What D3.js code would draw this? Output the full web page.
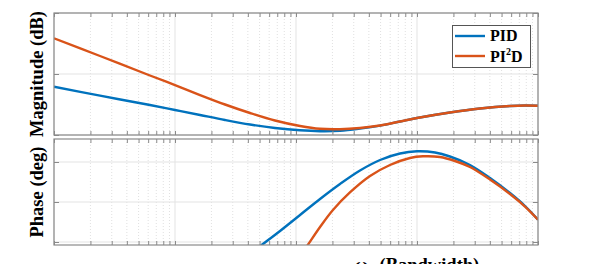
<!DOCTYPE html>
<html>
<head>
<meta charset="utf-8">
<script src="https://cdn.jsdelivr.net/npm/d3@7"></script>
<style>
body { margin: 0; background: #fff; }
svg { display: block; }
</style>
</head>
<body>
<svg id="chart" width="598" height="264"></svg>
<script>
// frequencies are w / w_b
let magFreq = [0.001, 0.0024, 0.00621, 0.01, 0.0161, 0.0259, 0.0417, 0.067, 0.108, 0.158, 0.231, 0.338, 0.495, 0.724, 1, 1.87, 3.32, 5.87, 7.81, 10]
let magPID = [5.84, 2.89, -0.16, -1.8, -3.44, -5.08, -6.56, -7.7, -8.46, -8.75, -8.62, -7.9, -6.92, -5.57, -4.43, -2.62, -1.31, -0.49, -0.33, -0.43]
let magPI2D = [21.7, 15.9, 9.51, 6.39, 3.11, 0.0, -2.79, -5.25, -7.05, -7.97, -8.1, -7.7, -6.89, -5.57, -4.43, -2.62, -1.31, -0.49, -0.33, -0.43]

let phaseFreqPID = [0.0417, 0.0504, 0.0738, 0.108, 0.158, 0.231, 0.338, 0.495, 0.724, 1, 1.41, 1.87, 2.74, 4.01, 5.87, 7.81, 10]
let phasePID = [-103.5, -94.8, -77.6, -59.6, -41.6, -24.75, -9.56, 2.25, 9.56, 12.04, 10.69, 6.19, -3.38, -18.0, -34.9, -49.5, -64.9]

let phaseFreqPI2D = [0.108, 0.123, 0.158, 0.202, 0.279, 0.409, 0.598, 0.875, 1.12, 1.55, 2.06, 2.74, 4.01, 5.87, 7.81, 10]
let phasePI2D = [-105.75, -94.8, -73.1, -54, -34.3, -15.75, -3.375, 4.5, 6.41, 5.625, 1.125, -5.625, -19.7, -36, -50.1, -64.9]

let magTicks = [-10, 10, 30]
let phaseTicks = [-90, -45, 0]

let svg = d3.select("#chart")

let x = d3.scaleLog()
    .domain([0.001, 10])
    .range([54, 538])

let yMag = d3.scaleLinear()
    .domain([-10, 30])
    .range([135, 13])

let yPhase = d3.scaleLinear()
    .domain([-93.375, 25.875])
    .range([245, 139])

let majorX = [0.001, 0.01, 0.1, 1, 10]
let minorX = []
majorX.slice(0, -1).forEach(d => {
    for (let k = 2; k <= 9; k++) minorX.push(d * k)
})

let blue = "#0072bd"
let orange = "#d95319"

function drawPanel(y, ticks, top, bottom, id) {
    let g = svg.append("g")

    // minor vertical grid
    g.selectAll(".minor")
        .data(minorX)
        .enter()
        .append("line")
        .attr("x1", d => x(d))
        .attr("x2", d => x(d))
        .attr("y1", top)
        .attr("y2", bottom)
        .attr("stroke", "#d8d8d8")
        .attr("stroke-width", 0.8)
        .attr("stroke-dasharray", "1,2")

    // major vertical grid
    g.selectAll(".major")
        .data(majorX)
        .enter()
        .append("line")
        .attr("x1", d => x(d))
        .attr("x2", d => x(d))
        .attr("y1", top)
        .attr("y2", bottom)
        .attr("stroke", "#e3e3e3")
        .attr("stroke-width", 1)

    // horizontal grid
    g.selectAll(".hgrid")
        .data(ticks)
        .enter()
        .append("line")
        .attr("x1", 54)
        .attr("x2", 538)
        .attr("y1", d => y(d))
        .attr("y2", d => y(d))
        .attr("stroke", "#e3e3e3")
        .attr("stroke-width", 1)

    // clip for curves
    svg.append("clipPath")
        .attr("id", id)
        .append("rect")
        .attr("x", 54)
        .attr("y", top)
        .attr("width", 484)
        .attr("height", bottom - top)

    return g
}

function drawFrame(y, ticks, top, bottom) {
    let g = svg.append("g")
    let allX = majorX.concat(minorX)

    let xAxisB = d3.axisBottom(x).tickValues(allX).tickSize(-4).tickFormat("")
    g.append("g")
        .attr("transform", "translate(0," + bottom + ")")
        .call(xAxisB)

    let xAxisT = d3.axisTop(x).tickValues(allX).tickSize(-4).tickFormat("")
    g.append("g")
        .attr("transform", "translate(0," + top + ")")
        .call(xAxisT)

    let yAxisL = d3.axisLeft(y).tickValues(ticks).tickSize(-5).tickFormat("")
    g.append("g")
        .attr("transform", "translate(54,0)")
        .call(yAxisL)

    let yAxisR = d3.axisRight(y).tickValues(ticks).tickSize(-5).tickFormat("")
    g.append("g")
        .attr("transform", "translate(538,0)")
        .call(yAxisR)

    g.selectAll(".domain").remove()
    g.selectAll(".tick line").attr("stroke", "#8a8a8a")

    g.append("rect")
        .attr("x", 54)
        .attr("y", top)
        .attr("width", 484)
        .attr("height", bottom - top)
        .attr("fill", "none")
        .attr("stroke", "#8a8a8a")
        .attr("stroke-width", 1.2)
}

drawPanel(yMag, magTicks, 13, 135, "clipMag")
drawPanel(yPhase, phaseTicks, 139, 245, "clipPhase")

function curve(freqs, vals, y, color, clip) {
    let pts = freqs.map((f, i) => [f, vals[i]])
    let line = d3.line()
        .x(d => x(d[0]))
        .y(d => y(d[1]))
        .curve(d3.curveCatmullRom.alpha(0.5))
    svg.append("path")
        .datum(pts)
        .attr("d", line)
        .attr("fill", "none")
        .attr("stroke", color)
        .attr("stroke-width", 2.4)
        .attr("clip-path", "url(#" + clip + ")")
}

curve(magFreq, magPID, yMag, blue, "clipMag")
curve(magFreq, magPI2D, yMag, orange, "clipMag")
curve(phaseFreqPID, phasePID, yPhase, blue, "clipPhase")
curve(phaseFreqPI2D, phasePI2D, yPhase, orange, "clipPhase")

drawFrame(yMag, magTicks, 13, 135)
drawFrame(yPhase, phaseTicks, 139, 245)

// legend
let legend = svg.append("g")
legend.append("rect")
    .attr("x", 452.5)
    .attr("y", 25.5)
    .attr("width", 78)
    .attr("height", 42)
    .attr("fill", "#fff")
    .attr("stroke", "#555")
    .attr("stroke-width", 1)

let legendItems = [
    { color: blue, y: 36 },
    { color: orange, y: 56 }
]
legend.selectAll(".lg")
    .data(legendItems)
    .enter()
    .append("line")
    .attr("x1", 455)
    .attr("x2", 485)
    .attr("y1", d => d.y)
    .attr("y2", d => d.y)
    .attr("stroke", d => d.color)
    .attr("stroke-width", 2.4)

let font = "'Liberation Serif', 'Times New Roman', serif"

legend.append("text")
    .attr("x", 490)
    .attr("y", 41)
    .attr("font-family", font)
    .attr("font-weight", "bold")
    .attr("font-size", 16)
    .text("PID")

let t2 = legend.append("text")
    .attr("x", 490)
    .attr("y", 62)
    .attr("font-family", font)
    .attr("font-weight", "bold")
    .attr("font-size", 16)
t2.append("tspan").text("PI")
t2.append("tspan").attr("font-size", 10).attr("dy", -7).text("2")
t2.append("tspan").attr("dy", 7).text("D")

// axis labels
svg.append("text")
    .attr("transform", "translate(43,74) rotate(-90)")
    .attr("text-anchor", "middle")
    .attr("font-family", font)
    .attr("font-weight", "bold")
    .attr("font-size", 18.5)
    .text("Magnitude (dB)")

svg.append("text")
    .attr("transform", "translate(43,192) rotate(-90)")
    .attr("text-anchor", "middle")
    .attr("font-family", font)
    .attr("font-weight", "bold")
    .attr("font-size", 18.5)
    .text("Phase (deg)")

let xl = svg.append("text")
    .attr("x", 417)
    .attr("y", 271)
    .attr("text-anchor", "middle")
    .attr("font-family", font)
    .attr("font-weight", "bold")
    .attr("font-size", 18.5)
xl.append("tspan").text("ω")
xl.append("tspan").attr("font-size", 12).attr("dy", 4).text("b")
xl.append("tspan").attr("dy", -4).text(" (Bandwidth)")
</script>
</body>
</html>
